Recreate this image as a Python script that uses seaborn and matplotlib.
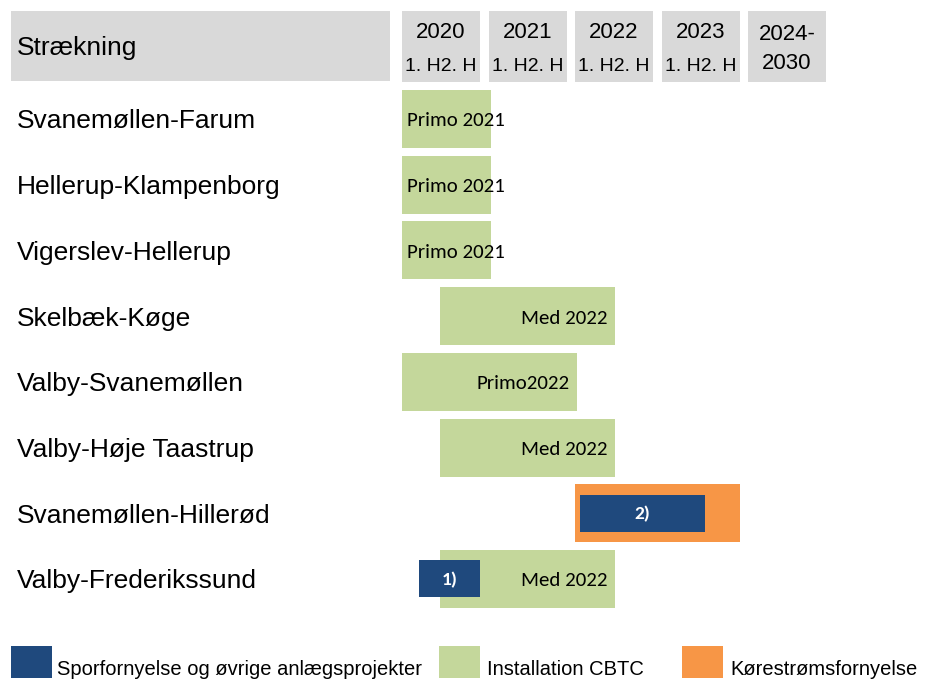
import matplotlib
matplotlib.use("Agg")
import matplotlib.pyplot as plt
from matplotlib.patches import Rectangle
import seaborn as sns

# ---------------- data ----------------
routes = ["Svanemøllen-Farum", "Hellerup-Klampenborg", "Vigerslev-Hellerup",
          "Skelbæk-Køge", "Valby-Svanemøllen", "Valby-Høje Taastrup",
          "Svanemøllen-Hillerød", "Valby-Frederikssund"]
cbtc_start = [2020.0, 2020.0, 2020.0, 2020.44, 2020.0, 2020.44, None, 2020.44]
cbtc_end = [2021.03, 2021.03, 2021.03, 2022.46, 2022.02, 2022.46, None, 2022.46]
cbtc_label = ["Primo 2021", "Primo 2021", "Primo 2021", "Med 2022",
              "Primo2022", "Med 2022", None, "Med 2022"]
cbtc_label_align = ["left", "left", "left", "right", "right", "right", None, "right"]
track_start = [None, None, None, None, None, None, 2022.06, 2020.2]
track_end = [None, None, None, None, None, None, 2023.5, 2020.9]
track_label = [None, None, None, None, None, None, "2)", "1)"]
power_start = [None, None, None, None, None, None, 2022.0, None]
power_end = [None, None, None, None, None, None, 2023.91, None]
years = ["2020", "2021", "2022", "2023"]
half_label = "1. H2. H"
last_period = ["2024-", "2030"]
header_title = "Strækning"
legend_labels = ["Sporfornyelse og øvrige anlægsprojekter", "Installation CBTC",
                 "Kørestrømsfornyelse"]

# ---------------- style ----------------
sns.set_theme(style="white")
plt.rcParams["font.family"] = ["Liberation Sans", "DejaVu Sans"]
plt.rcParams["text.color"] = "black"

GREEN = "#C4D79B"
BLUE = "#1F497D"
ORANGE = "#F79646"
GRAY = "#D9D9D9"

W, H = 933, 679
fig = plt.figure(figsize=(W / 100, H / 100), dpi=100)
ax = fig.add_axes([0, 0, 1, 1])

# pixel <-> data mapping (time axis in years, rows on y)
X0, PPY = 402.0, 86.5      # px of 2020, px per year
Y0, PPR = 119.0, 65.7      # px of first row centre, px per row
def px2x(px):
    return 2020 + (px - X0) / PPY
def py2y(py):
    return (py - Y0) / PPR

ax.set_xlim(px2x(0), px2x(W))
ax.set_ylim(py2y(H), py2y(0))
ax.axis("off")

# ---------------- header ----------------
ax.add_patch(Rectangle((px2x(11), py2y(11)), px2x(390) - px2x(11),
                       py2y(81) - py2y(11), color=GRAY, lw=0))
ax.text(px2x(17), py2y(55), header_title, fontsize=19, ha="left",
        va="baseline")
box_w = 78 / PPY
for i, yr in enumerate(years + ["last"]):
    x = 2020 + i
    ax.add_patch(Rectangle((x, py2y(11)), box_w, py2y(82) - py2y(11),
                           color=GRAY, lw=0))
    cx = x + box_w / 2
    if yr == "last":
        ax.text(cx, py2y(40), last_period[0], fontsize=16, ha="center", va="baseline")
        ax.text(cx, py2y(69), last_period[1], fontsize=16, ha="center", va="baseline")
    else:
        ax.text(cx, py2y(38), yr, fontsize=16, ha="center", va="baseline")
        ax.text(cx, py2y(71), half_label, fontsize=14, ha="center", va="baseline")

# ---------------- rows ----------------
bar_h = 58 / PPR
blue_h = 37 / PPR
label_font = ["Carlito", "Lato", "DejaVu Sans"]
for r, name in enumerate(routes):
    ax.text(px2x(17), r + 9.5 / PPR, name, fontsize=19, ha="left",
            va="baseline")
    if power_start[r] is not None:
        ax.barh(r, power_end[r] - power_start[r], left=power_start[r],
                height=bar_h, color=ORANGE, lw=0)
    if cbtc_start[r] is not None:
        ax.barh(r, cbtc_end[r] - cbtc_start[r], left=cbtc_start[r],
                height=bar_h, color=GREEN, lw=0)
        if cbtc_label_align[r] == "left":
            tx, ha = cbtc_start[r] + 5 / PPY, "left"
        else:
            tx, ha = cbtc_end[r] - 7 / PPY, "right"
        ax.text(tx, r + 7.5 / PPR, cbtc_label[r], fontsize=15, ha=ha,
                va="baseline", family=label_font)
    if track_start[r] is not None:
        ax.barh(r, track_end[r] - track_start[r], left=track_start[r],
                height=blue_h, color=BLUE, lw=0)
        ax.text((track_start[r] + track_end[r]) / 2, r + 6.5 / PPR, track_label[r],
                fontsize=14, ha="center", va="baseline", family=label_font,
                fontweight="bold", color="white")

# ---------------- legend ----------------
leg_colors = [BLUE, GREEN, ORANGE]
leg_sq_x = [11, 439, 682]
leg_tx_x = [57, 487, 730]
for c, sx, tx, lab in zip(leg_colors, leg_sq_x, leg_tx_x, legend_labels):
    ax.add_patch(Rectangle((px2x(sx), py2y(646)), 41 / PPY, py2y(678) - py2y(646),
                           color=c, lw=0, clip_on=False))
    ax.text(px2x(tx), py2y(675), lab, fontsize=14.5, ha="left", va="baseline")

fig.savefig("out.png", dpi=100)
